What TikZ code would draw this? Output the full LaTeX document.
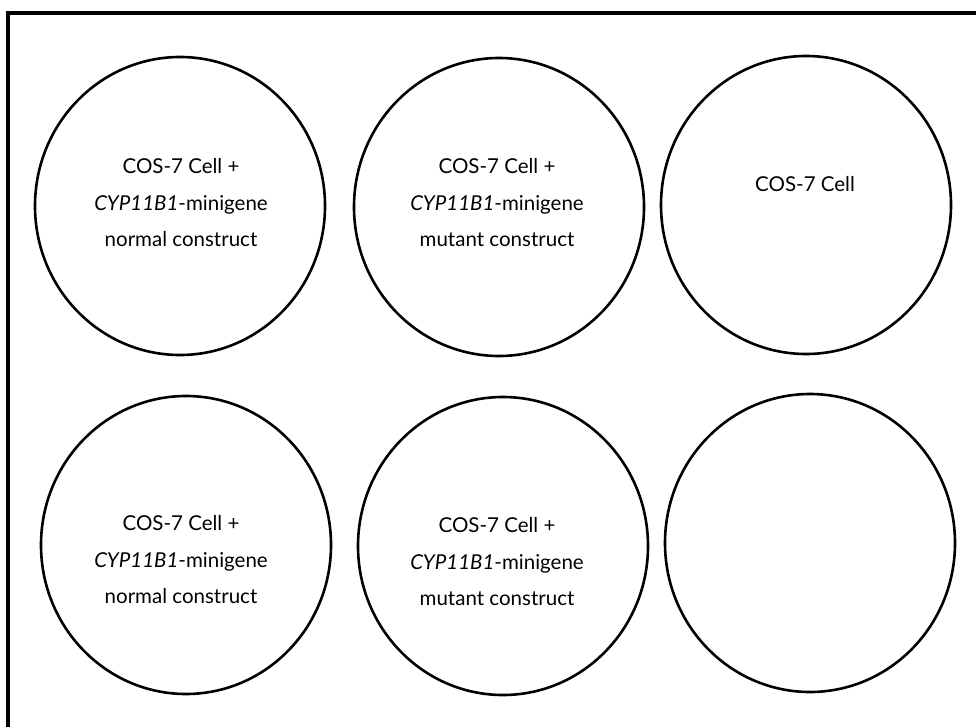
\documentclass[tikz,border=0pt]{standalone}
\usepackage{fontspec}
\setmainfont{Lato}
\usetikzlibrary{shapes.geometric, positioning}

\begin{document}
\begin{tikzpicture}[x=1pt, y=-1pt,
  pozzetto/.style={draw=black, line width=2.6pt, ellipse, inner sep=0pt,
                   minimum width=290pt, minimum height=298pt},
  etichetta/.style={align=center, inner sep=0pt, font=\fontsize{20.5}{36.5}\selectfont},
  cornice/.style={draw=black, line width=3.5pt}
]
\useasboundingbox (0,0) rectangle (976,727);

% pozzetti della piastra
\foreach \n/\x/\y in {A1/180/206, A2/499/207, A3/806/205, B1/186/545, B2/503/546, B3/810/543}
  \node[pozzetto] (\n) at (\x,\y) {};

% etichette
\node[etichetta] (tA1) at (181,203) {COS-7 Cell +\\ \textit{CYP11B1}-minigene\\ normal construct};
\node[etichetta] (tA2) at (497,203) {COS-7 Cell +\\ \textit{CYP11B1}-minigene\\ mutant construct};
\node[etichetta] (tA3) at (805,184) {COS-7 Cell};
\node[etichetta] (tB1) at (181,560) {COS-7 Cell +\\ \textit{CYP11B1}-minigene\\ normal construct};
\node[etichetta] (tB2) at (497,562) {COS-7 Cell +\\ \textit{CYP11B1}-minigene\\ mutant construct};

% cornice
\coordinate (angolo) at (8,13);
\draw[cornice] (8,727) -- (angolo) -- (976,13);

\end{tikzpicture}
\end{document}
